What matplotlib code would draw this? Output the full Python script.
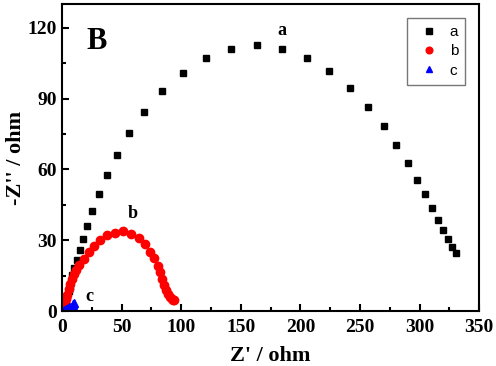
import matplotlib
matplotlib.use("Agg")
import matplotlib.pyplot as plt
from matplotlib.ticker import MultipleLocator

# Nyquist data (Z' and -Z'' in ohm)
za = [1.5, 2.5, 3.5, 4.5, 5.5, 6.5, 8.1, 10.1, 12.3, 14.8, 17.6, 21.0, 24.9, 30.8,
      37.5, 45.9, 56.5, 69.1, 84.2, 101.3, 120.9, 141.6, 163.5, 185.0, 205.7,
      224.4, 241.8, 256.7, 269.8, 280.4, 290.2, 297.8, 304.5, 310.4, 315.4,
      319.6, 323.5, 326.9, 330.2]
ya = [1.0, 2.5, 4.5, 6.5, 8.5, 10.5, 15.2, 18.2, 21.5, 25.8, 30.5, 36.0, 42.4, 49.4,
      57.6, 66.0, 75.2, 84.4, 93.2, 101.0, 107.2, 111.1, 112.5, 111.1, 107.3,
      101.5, 94.3, 86.5, 78.3, 70.4, 62.7, 55.6, 49.4, 43.6, 38.4,
      34.2, 30.4, 27.0, 24.4]

zb = [1.0, 2.0, 3.0, 4.0, 5.5, 7.0, 8.5, 10.0, 12.0, 14.5, 18.5, 22.5, 26.9, 31.9,
      38.0, 44.5, 51.5, 58.2, 64.4, 69.7, 74.2, 77.5, 80.3, 82.3, 84.2, 85.8,
      87.3, 88.8, 90.4, 92.0, 93.5, 94.0]
yb = [1.0, 3.0, 5.0, 7.0, 9.5, 11.5, 13.5, 15.5, 17.5, 19.5, 22.1, 25.0, 27.7, 30.2,
      32.1, 33.2, 33.7, 32.7, 31.0, 28.3, 25.2, 22.4, 19.3, 16.5, 13.5, 11.0,
      9.0, 7.3, 6.0, 5.2, 4.8, 4.6]

zc = [2.0, 3.0, 4.0, 5.0, 6.0, 7.0, 8.0, 9.0, 9.5, 10.0]
yc = [0.5, 0.8, 1.0, 1.2, 1.4, 1.6, 1.9, 2.3, 2.8, 3.4]

serif = ["Liberation Serif", "DejaVu Serif"]

fig = plt.figure(figsize=(4.96, 3.66), dpi=100)
ax = fig.add_axes([0.125, 0.150, 0.841, 0.839])

ax.plot(za, ya, "s", color="black", ms=5, ls="none", label="a")
ax.plot(zb, yb, "o", color="red", ms=6, ls="none", label="b")
ax.plot(zc, yc, "^", color="blue", ms=6, ls="none", label="c")

ax.set_xlim(0, 350)
ax.set_ylim(0, 130)
ax.xaxis.set_major_locator(MultipleLocator(50))
ax.xaxis.set_minor_locator(MultipleLocator(25))
ax.yaxis.set_major_locator(MultipleLocator(30))
ax.yaxis.set_minor_locator(MultipleLocator(15))
ax.tick_params(which="both", direction="in", width=1.5)
ax.tick_params(which="major", length=5)
ax.tick_params(which="minor", length=3)
ax.tick_params(axis="x", pad=6)
for s in ax.spines.values():
    s.set_linewidth(1.5)
for lbl in ax.get_xticklabels() + ax.get_yticklabels():
    lbl.set_family(serif)
    lbl.set_fontweight("bold")
    lbl.set_fontsize(14)

ax.set_xlabel("Z' / ohm", family=serif, fontweight="bold", fontsize=16, labelpad=7)
ax.set_ylabel("-Z'' / ohm", family=serif, fontweight="bold", fontsize=16, labelpad=1)

ax.text(29, 114, "B", family=serif, fontweight="bold", fontsize=22, ha="center", va="center")
ax.text(184.5, 118.7, "a", family=serif, fontweight="bold", fontsize=13, ha="center", va="center")
ax.text(59.6, 41.4, "b", family=serif, fontweight="bold", fontsize=13, ha="center", va="center")
ax.text(23, 6.3, "c", family=serif, fontweight="bold", fontsize=13, ha="center", va="center")

leg = ax.legend(loc="upper right", bbox_to_anchor=(0.966, 0.954), borderaxespad=0,
                fancybox=False, prop={"family": "Liberation Sans", "size": 11},
                handletextpad=0.35, borderpad=0.45, labelspacing=0.35,
                handlelength=2.0, markerscale=0.8)
leg.get_frame().set_edgecolor("#555555")
leg.get_frame().set_linewidth(1.0)

fig.savefig("out.png", dpi=100)
